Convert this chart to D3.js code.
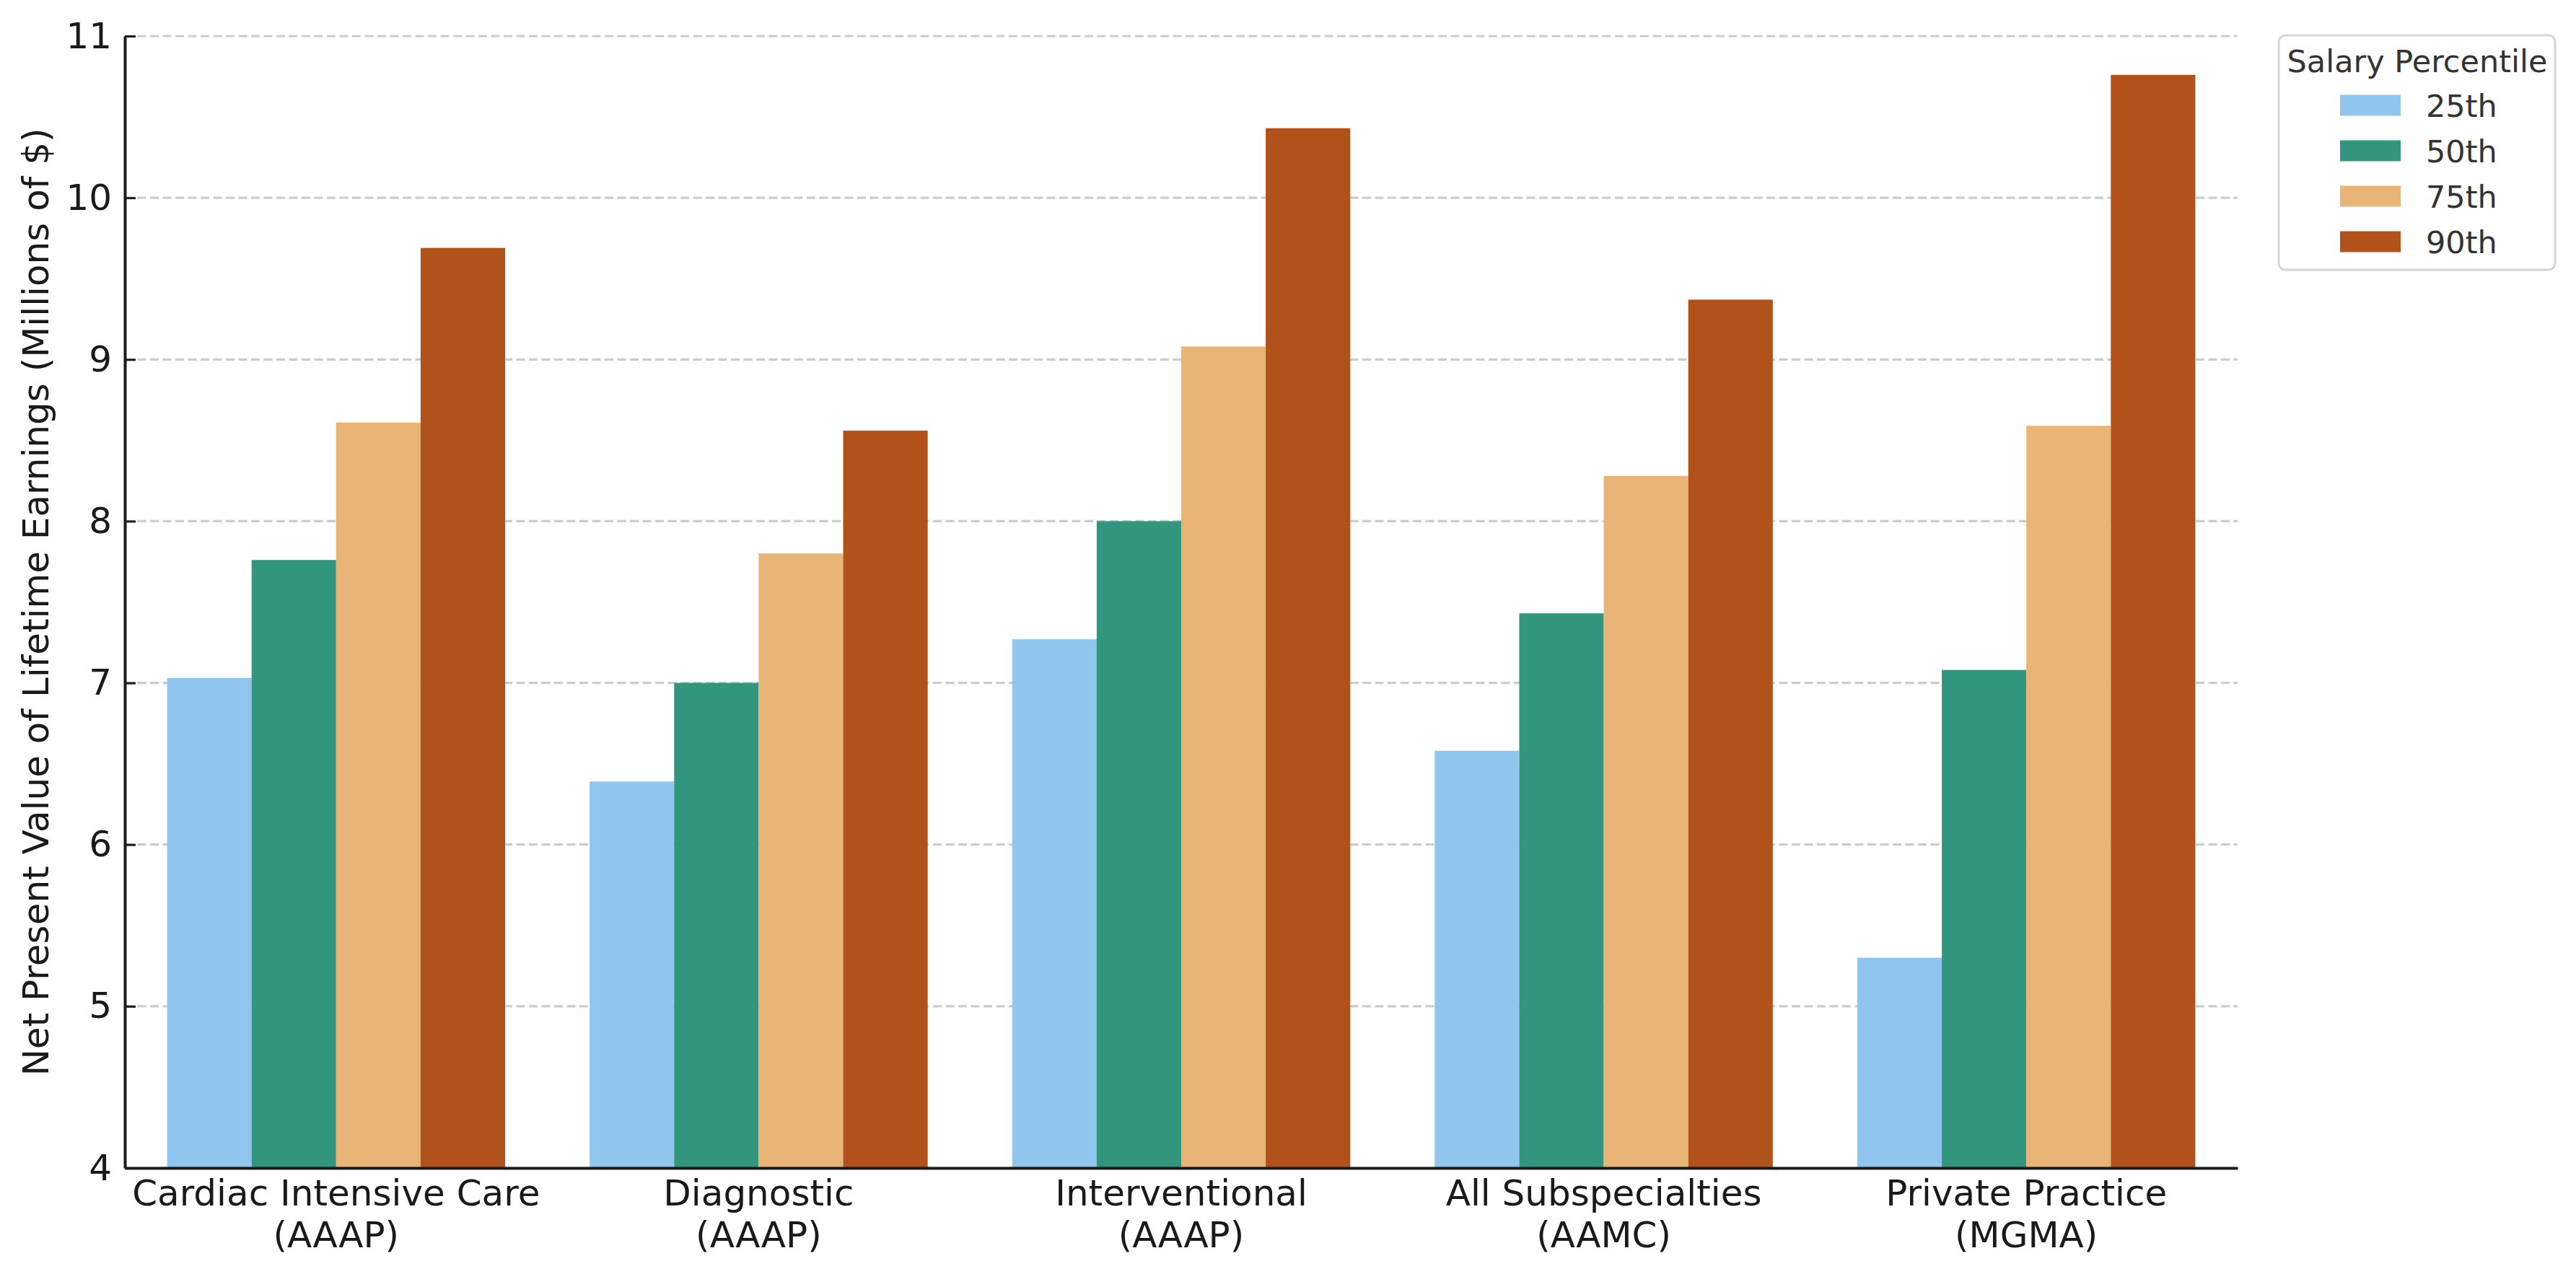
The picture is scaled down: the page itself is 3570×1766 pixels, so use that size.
<!DOCTYPE html>
<html>
<head>
<meta charset="utf-8">
<script src="https://cdn.jsdelivr.net/npm/d3@7"></script>
<style>
  body { margin: 0; background: #fff; }
  text { font-family: 'DejaVu Sans', sans-serif; }
</style>
</head>
<body>
<div id="chart"></div>
<script>
// Data
var categories = [
  ['Cardiac Intensive Care', '(AAAP)'],
  ['Diagnostic', '(AAAP)'],
  ['Interventional', '(AAAP)'],
  ['All Subspecialties', '(AAMC)'],
  ['Private Practice', '(MGMA)']
]
var percentiles = ['25th', '50th', '75th', '90th']
var p25 = [7.03, 6.39, 7.27, 6.58, 5.30]
var p50 = [7.76, 7.00, 8.00, 7.43, 7.08]
var p75 = [8.61, 7.80, 9.08, 8.28, 8.59]
var p90 = [9.69, 8.56, 10.43, 9.37, 10.76]
var yTicks = [4, 5, 6, 7, 8, 9, 10, 11]
var colors = ['#90c6ee', '#32957e', '#e9b577', '#b0521a']

var series = [p25, p50, p75, p90]

// Set up svg parameters
var svgWidth = 3570
var svgHeight = 1766
var margin = { top: 50, right: 469, bottom: 147, left: 173 }
var width = svgWidth - margin.left - margin.right
var height = svgHeight - margin.top - margin.bottom

var svg = d3.select('#chart')
  .append('svg')
  .attr('width', svgWidth)
  .attr('height', svgHeight)

var chartGroup = svg.append('g')
  .attr('transform', `translate(${margin.left}, ${margin.top})`)

// Scales
var x0 = d3.scaleBand()
  .domain(d3.range(categories.length))
  .range([0, width])
  .paddingInner(0.2)
  .paddingOuter(0.1)

var x1 = d3.scaleBand()
  .domain(d3.range(percentiles.length))
  .range([0, x0.bandwidth()])

var y = d3.scaleLinear()
  .domain([4, 11])
  .range([height, 0])

// Grid lines
chartGroup.append('g')
  .selectAll('line')
  .data(yTicks.slice(1))
  .enter()
  .append('line')
  .attr('x1', 0)
  .attr('x2', width)
  .attr('y1', d => y(d))
  .attr('y2', d => y(d))
  .attr('stroke', '#cccccc')
  .attr('stroke-width', 3.2)
  .attr('stroke-dasharray', '12,5.5')

// Bars
var rows = []
categories.forEach((c, i) => {
  series.forEach((s, j) => {
    rows.push({ cat: i, p: j, value: s[i] })
  })
})

chartGroup.append('g')
  .selectAll('rect')
  .data(rows)
  .enter()
  .append('rect')
  .attr('x', d => x0(d.cat) + x1(d.p))
  .attr('width', x1.bandwidth())
  .attr('y', d => y(d.value))
  .attr('height', d => y(4) - y(d.value))
  .attr('fill', d => colors[d.p])

// Axes
var leftAxis = d3.axisLeft(y)
  .tickValues(yTicks)
  .tickFormat(d3.format('d'))
  .tickSizeInner(-15)
  .tickSizeOuter(0)
  .tickPadding(18)

var yAxisG = chartGroup.append('g').call(leftAxis)
yAxisG.select('.domain').attr('stroke', '#1a1a1a').attr('stroke-width', 4)
yAxisG.selectAll('.tick line').attr('stroke', '#1a1a1a').attr('stroke-width', 3)
yAxisG.selectAll('.tick text')
  .attr('x', -18)
  .style('font-size', '50px')
  .style('font-family', 'DejaVu Sans')
  .attr('fill', '#1a1a1a')

var bottomAxis = d3.axisBottom(x0)
  .tickSize(0)
  .tickFormat('')

var xAxisG = chartGroup.append('g')
  .attr('transform', `translate(0, ${height})`)
  .call(bottomAxis)
xAxisG.select('.domain').attr('stroke', '#1a1a1a').attr('stroke-width', 4)

xAxisG.selectAll('.tick').each(function (d) {
  var t = d3.select(this).select('text')
    .attr('y', 0)
    .attr('dy', null)
    .attr('fill', '#1a1a1a')
    .style('font-size', '50px')
    .style('font-family', 'DejaVu Sans')
  t.text(null)
  categories[d].forEach((line, k) => {
    t.append('tspan')
      .attr('x', 0)
      .attr('y', 52 + k * 58)
      .text(line)
  })
})

// Y axis label
svg.append('text')
  .attr('transform', `translate(67, ${margin.top + height / 2}) rotate(-90)`)
  .attr('text-anchor', 'middle')
  .attr('fill', '#1a1a1a')
  .style('font-size', '50px')
  .text('Net Present Value of Lifetime Earnings (Millions of $)')

// Legend
var legend = svg.append('g')
  .attr('transform', 'translate(3158, 49)')

legend.append('rect')
  .attr('x', 0)
  .attr('y', 0)
  .attr('width', 383)
  .attr('height', 325)
  .attr('rx', 9)
  .attr('fill', '#fff')
  .attr('stroke', '#d6d6d6')
  .attr('stroke-width', 3)

legend.append('text')
  .attr('x', 192)
  .attr('y', 51)
  .attr('text-anchor', 'middle')
  .attr('fill', '#333')
  .style('font-size', '43px')
  .text('Salary Percentile')

var items = legend.selectAll('.item')
  .data(percentiles)
  .enter()
  .append('g')
  .attr('class', 'item')
  .attr('transform', (d, i) => `translate(0, ${97 + i * 63})`)

items.append('rect')
  .attr('x', 85)
  .attr('y', -14.5)
  .attr('width', 84)
  .attr('height', 29)
  .attr('fill', (d, i) => colors[i])

items.append('text')
  .attr('x', 204)
  .attr('y', 16)
  .attr('fill', '#333')
  .style('font-size', '43px')
  .text(d => d)
</script>
</body>
</html>
